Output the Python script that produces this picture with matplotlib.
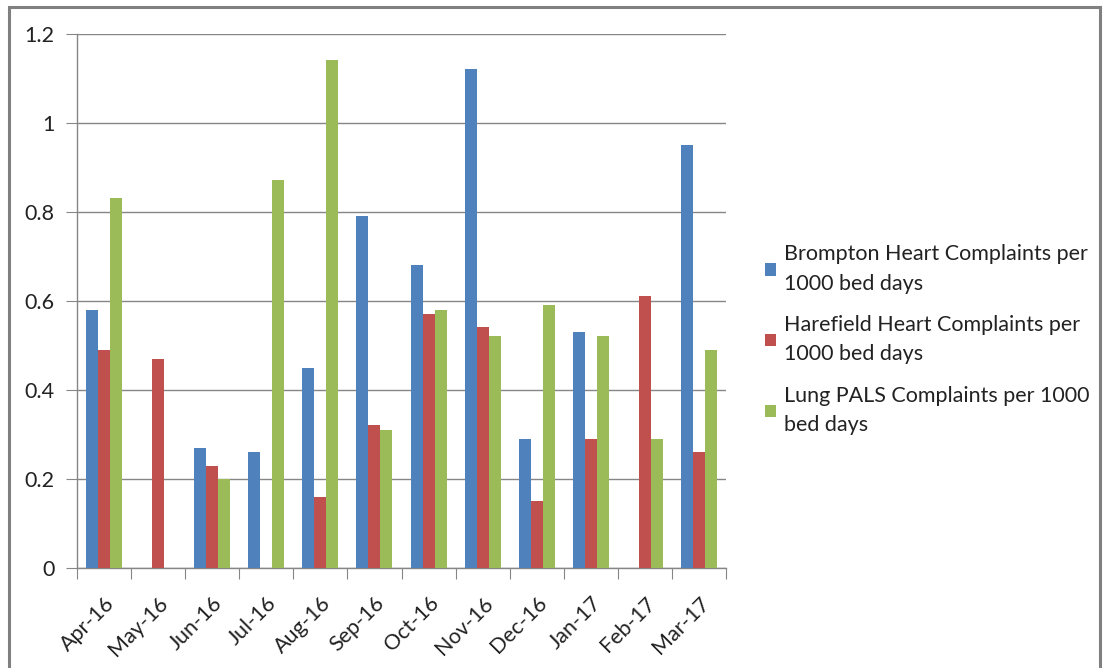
import matplotlib
matplotlib.use("Agg")
import matplotlib.pyplot as plt
import numpy as np
from matplotlib.patches import Rectangle

months = ["Apr-16", "May-16", "Jun-16", "Jul-16", "Aug-16", "Sep-16",
          "Oct-16", "Nov-16", "Dec-16", "Jan-17", "Feb-17", "Mar-17"]
brompton = [0.58, 0.0, 0.27, 0.26, 0.45, 0.79, 0.68, 1.12, 0.29, 0.53, 0.0, 0.95]
harefield = [0.49, 0.47, 0.23, 0.0, 0.16, 0.32, 0.57, 0.54, 0.15, 0.29, 0.61, 0.26]
lung = [0.83, 0.0, 0.20, 0.87, 1.14, 0.31, 0.58, 0.52, 0.59, 0.52, 0.29, 0.49]
series_names = ["Brompton Heart Complaints per\n1000 bed days",
                "Harefield Heart Complaints per\n1000 bed days",
                "Lung PALS Complaints per 1000\nbed days"]
colors = ["#4F81BD", "#C0504D", "#9BBB59"]
yticks = [0, 0.2, 0.4, 0.6, 0.8, 1, 1.2]
ytick_labels = ["0", "0.2", "0.4", "0.6", "0.8", "1", "1.2"]

plt.rcParams['font.family'] = ['Lato', 'DejaVu Sans']
FS = 15.5

fig = plt.figure(figsize=(11.07, 6.68), dpi=100)
W, H = 1107, 668
fig.patches.append(Rectangle((9 / W, -0.1), (1100 - 9) / W, (668 - 7) / H + 0.1,
                             transform=fig.transFigure, fill=False,
                             edgecolor="#808080", linewidth=2.2))

ax = fig.add_axes([77 / W, 1 - 568 / H, (726 - 77) / W, (568 - 33.5) / H])
x = np.arange(len(months))
bw = 0.222
for i, (vals, c, name) in enumerate(zip([brompton, harefield, lung], colors, series_names)):
    ax.bar(x + (i - 1) * bw, vals, width=bw, color=c, label=name, zorder=3)

ax.set_xlim(-0.5, len(months) - 0.5)
ax.set_ylim(0, 1.2)
ax.set_yticks(yticks)
ax.set_yticklabels(ytick_labels)
ax.yaxis.grid(True, color="#868686", linewidth=1.0, zorder=0)
ax.set_axisbelow(True)
for s in ["top", "right"]:
    ax.spines[s].set_visible(False)
for s in ["left", "bottom"]:
    ax.spines[s].set_color("#868686")
    ax.spines[s].set_linewidth(1.0)
ax.tick_params(axis="y", length=8, color="#868686", labelsize=FS, pad=8, labelcolor="#222222")
ax.set_xticks(np.arange(len(months) + 1) - 0.5)
ax.set_xticklabels([])
ax.set_xticks(x, minor=True)
ax.set_xticklabels(months, minor=True, rotation=45, ha="right", va="top",
                   rotation_mode="anchor", fontsize=FS, color="#222222")
ax.tick_params(axis="x", which="major", length=8, color="#868686")
ax.tick_params(axis="x", which="minor", length=0, pad=18)

leg = fig.legend(loc="upper left", bbox_to_anchor=(746 / W, 1 - 225 / H),
                 frameon=False, fontsize=FS, handlelength=0.5, handleheight=0.5,
                 handletextpad=0.35, labelspacing=1.0)
for t in leg.get_texts():
    t.set_linespacing(1.58)
    t.set_color("#222222")

fig.savefig("out.png", dpi=100)
